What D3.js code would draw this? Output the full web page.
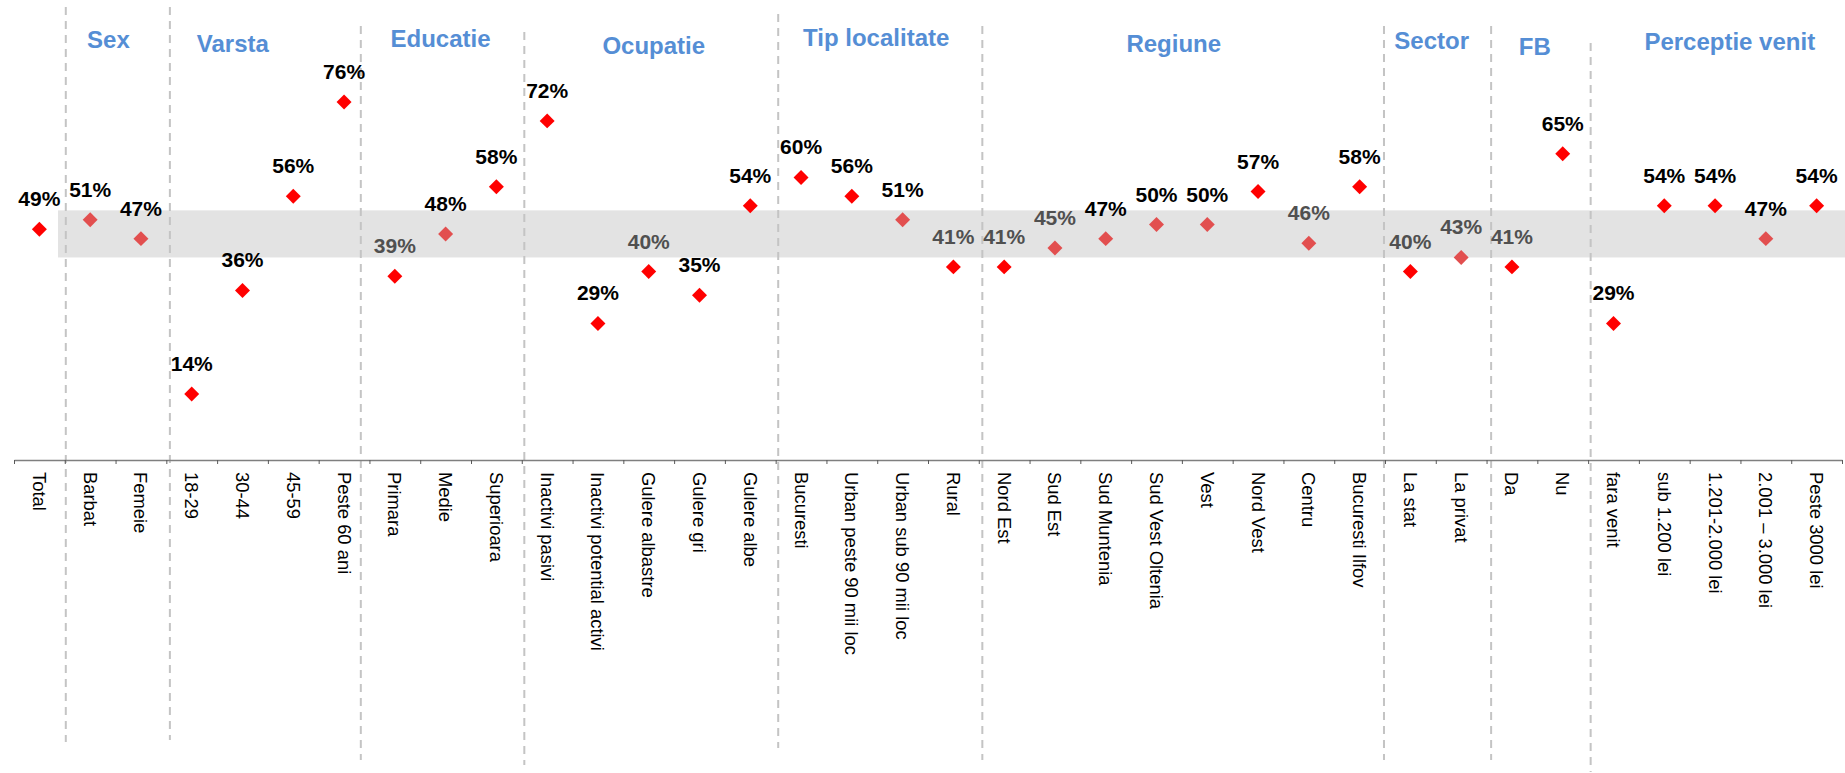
<!DOCTYPE html>
<html>
<head>
<meta charset="utf-8">
<script src="https://cdn.jsdelivr.net/npm/d3@7"></script>
<style>
  body { margin: 0; background: #fff; }
  text { font-family: "Liberation Sans", Arial, sans-serif; }
</style>
</head>
<body>
<script>
let w = 1845;
let h = 773;

// data
let categories = [
  "Total",
  "Barbat", "Femeie",
  "18-29", "30-44", "45-59", "Peste 60 ani",
  "Primara", "Medie", "Superioara",
  "Inactivi pasivi", "Inactivi potential activi", "Gulere albastre", "Gulere gri", "Gulere albe",
  "Bucuresti", "Urban peste 90 mii loc", "Urban sub 90 mii loc", "Rural",
  "Nord Est", "Sud Est", "Sud Muntenia", "Sud Vest Oltenia", "Vest", "Nord Vest", "Centru", "Bucuresti Ilfov",
  "La stat", "La privat",
  "Da", "Nu",
  "fara venit", "sub 1.200 lei", "1.201-2.000 lei", "2.001 \u2013 3.000 lei", "Peste 3000 lei"
];
let values = [
  0.49,
  0.51, 0.47,
  0.14, 0.36, 0.56, 0.76,
  0.39, 0.48, 0.58,
  0.72, 0.29, 0.40, 0.35, 0.54,
  0.60, 0.56, 0.51, 0.41,
  0.41, 0.45, 0.47, 0.50, 0.50, 0.57, 0.46, 0.58,
  0.40, 0.43,
  0.41, 0.65,
  0.29, 0.54, 0.54, 0.47, 0.54
];
let groupNames = ["Sex", "Varsta", "Educatie", "Ocupatie", "Tip localitate", "Regiune", "Sector", "FB", "Perceptie venit"];
let groupSizes = [2, 4, 3, 5, 4, 8, 2, 2, 5];
let bandRange = [0.43, 0.53];

// layout tweaks (the original was hand placed)
let headerNudge = [[-0.14, -4], [-0.69, 0], [-0.1, -5], [0.1, 2], [-0.02, -6], [-0.16, 0], [-0.08, -3], [-0.05, 3], [0.29, -2]];
let dividerNudge = [0.02, 0.07, -0.17, 0.05, 0.05, 0.07, -0.02, 0.09, 0.05];
let dividerSpan = [[7, 742], [7, 740], [26, 760], [32, 765], [14, 748], [26, 760], [26, 760], [26, 760], [43, 772]];

const axisY = 460;
const redFill = "#ff0000";
const lightFill = "#e24f4f";
const blue = "#558ed5";

let svg = d3.select("body").append("svg").attr("width", w).attr("height", h);

let idx = d3.scaleLinear().domain([0, categories.length]).range([14, 1842]);
let xScale = d3.scaleBand().domain(categories).range([14, 1842]);
let yScale = d3.scaleLinear().domain([0, 1]).range([axisY, axisY - 471]);

let data = categories.map((c, i) => ({ name: c, value: values[i], total: i === 0 }));

// grey band
svg.append("rect")
  .attr("x", 58)
  .attr("y", yScale(bandRange[1]))
  .attr("width", w - 58)
  .attr("height", yScale(bandRange[0]) - yScale(bandRange[1]))
  .attr("fill", "#e3e3e3");

// group boundaries
let bounds = [];
let acc = 1;
groupSizes.forEach((s) => { bounds.push(acc); acc += s; });

svg.selectAll("line.divider")
  .data(bounds)
  .enter()
  .append("line")
  .attr("class", "divider")
  .attr("x1", (d, i) => idx(d + dividerNudge[i]))
  .attr("x2", (d, i) => idx(d + dividerNudge[i]))
  .attr("y1", (d, i) => dividerSpan[i][0])
  .attr("y2", (d, i) => dividerSpan[i][1])
  .attr("stroke", "#c4c4c4")
  .attr("stroke-width", 2)
  .attr("stroke-dasharray", "8,6");

// group headers
svg.selectAll("text.header")
  .data(groupNames)
  .enter()
  .append("text")
  .attr("class", "header")
  .attr("x", (d, i) => idx(bounds[i] + groupSizes[i] / 2 + headerNudge[i][0]))
  .attr("y", (d, i) => 52 + headerNudge[i][1])
  .attr("text-anchor", "middle")
  .attr("font-size", "24px")
  .attr("font-weight", "bold")
  .attr("fill", blue)
  .text((d) => d);

// x axis with ticks between categories
const xAxis = d3.axisBottom(idx)
  .tickValues(d3.range(categories.length + 1))
  .tickFormat("")
  .tickSize(4)
  .tickSizeOuter(0);

let ax = svg.append("g")
  .attr("class", "x axis")
  .attr("transform", "translate(0," + axisY + ")")
  .call(xAxis);
ax.select(".domain").attr("stroke", "#7f7f7f").attr("stroke-width", 1.5);
ax.selectAll(".tick line").attr("stroke", "#595959");

svg.selectAll("text.catLabel")
  .data(data)
  .enter()
  .append("text")
  .attr("class", "catLabel")
  .attr("transform", (d) => "translate(" + (xScale(d.name) + xScale.bandwidth() / 2) + "," + (axisY + 12) + ") rotate(90)")
  .attr("dominant-baseline", "central")
  .attr("font-size", "18.4px")
  .attr("fill", "#000")
  .text((d) => d.name);

// diamonds
const inBand = (d) => d.value >= bandRange[0] && d.value <= bandRange[1];

svg.selectAll("path.point")
  .data(data)
  .enter()
  .append("path")
  .attr("class", "point")
  .attr("d", d3.symbol(d3.symbolSquare, 112))
  .attr("transform", (d) => "translate(" + (xScale(d.name) + xScale.bandwidth() / 2) + "," + yScale(d.value) + ") rotate(45)")
  .attr("fill", (d) => (inBand(d) && !d.total) ? lightFill : redFill);

svg.selectAll("text.valLabel")
  .data(data)
  .enter()
  .append("text")
  .attr("class", "valLabel")
  .attr("x", (d) => xScale(d.name) + xScale.bandwidth() / 2)
  .attr("y", (d) => yScale(d.value) - 23)
  .attr("text-anchor", "middle")
  .attr("font-size", "21px")
  .attr("font-weight", "bold")
  .attr("fill", (d) => (d.value > 0.37 && d.value < 0.465) ? "#505050" : "#000")
  .text((d) => Math.round(d.value * 100) + "%");
</script>
</body>
</html>
